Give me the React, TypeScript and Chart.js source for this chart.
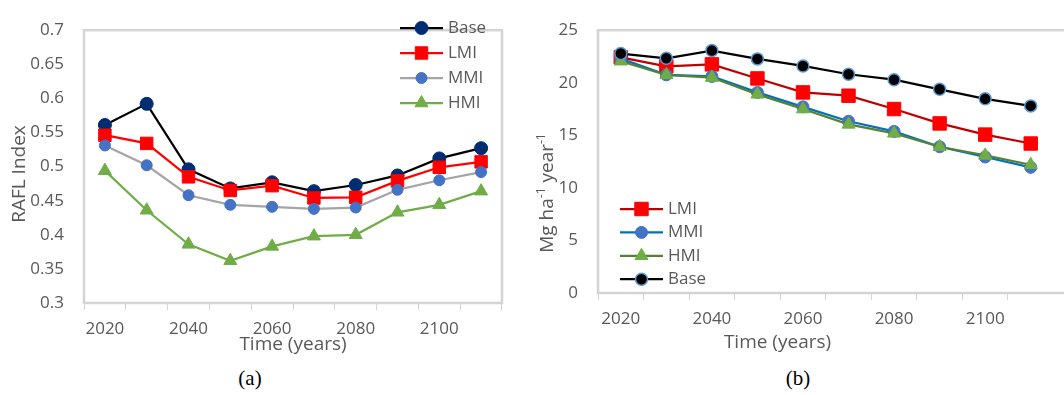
import React, { useEffect, useRef } from "react";
import { Chart, registerables } from "chart.js";
import { drawPoint } from "chart.js/helpers";

Chart.register(...registerables);

// ---------- data ----------
const years = ["2020", "2030", "2040", "2050", "2060", "2070", "2080", "2090", "2100", "2110"];
const tickLabels = ["2020", "", "2040", "", "2060", "", "2080", "", "2100", ""];

// (a) RAFL Index
const baseA = [0.561, 0.592, 0.496, 0.468, 0.477, 0.464, 0.473, 0.487, 0.512, 0.527];
const lmiA = [0.546, 0.534, 0.485, 0.465, 0.472, 0.454, 0.455, 0.479, 0.499, 0.507];
const mmiA = [0.531, 0.502, 0.458, 0.444, 0.441, 0.438, 0.44, 0.466, 0.48, 0.492];
const hmiA = [0.494, 0.436, 0.386, 0.362, 0.383, 0.398, 0.4, 0.433, 0.444, 0.464];

// (b) Mg ha-1 year-1
const lmiB = [22.42, 21.57, 21.75, 20.41, 19.08, 18.77, 17.5, 16.13, 15.07, 14.22];
const mmiB = [22.3, 20.75, 20.6, 19.08, 17.71, 16.34, 15.37, 13.91, 12.94, 11.95];
const hmiB = [22.05, 20.75, 20.5, 18.9, 17.5, 16.04, 15.19, 13.91, 13.09, 12.2];
const baseB = [22.78, 22.33, 23.06, 22.27, 21.6, 20.81, 20.29, 19.38, 18.47, 17.8];

const FONT = '"Open Sans", "Noto Sans", sans-serif';
const TEXT = "#595959";
const FS = 17;
const TFS = 19;

// ---------- plugins ----------
const boxPlugin = {
  id: "plotBox",
  beforeDatasetsDraw(chart: any, _a: any, opts: any) {
    const { ctx, chartArea } = chart;
    ctx.save();
    ctx.strokeStyle = opts.color || "#d4d4d4";
    ctx.lineWidth = opts.width || 2.5;
    const extra = opts.extendRight || 0;
    ctx.strokeRect(chartArea.left, chartArea.top, chartArea.right - chartArea.left + extra, chartArea.bottom - chartArea.top);
    ctx.restore();
  },
};

const titlePlugin = {
  id: "axisTitles",
  afterDraw(chart: any, _a: any, opts: any) {
    const ctx = chart.ctx;
    for (const it of opts.items || []) {
      ctx.save();
      ctx.translate(it.x, it.y);
      if (it.rotate) ctx.rotate(-Math.PI / 2);
      const base = `${it.size}px ${FONT}`;
      const sup = `${Math.round(it.size * 0.62)}px ${FONT}`;
      let w = 0;
      for (const s of it.segs) {
        ctx.font = s.sup ? sup : base;
        w += ctx.measureText(s.t).width;
      }
      let x = -w / 2;
      ctx.textBaseline = "middle";
      ctx.textAlign = "left";
      ctx.fillStyle = TEXT;
      for (const s of it.segs) {
        ctx.font = s.sup ? sup : base;
        ctx.fillText(s.t, x, s.sup ? -it.size * 0.32 : 0);
        x += ctx.measureText(s.t).width;
      }
      ctx.restore();
    }
  },
};

const legendPlugin = {
  id: "lineLegend",
  afterDraw(chart: any, _a: any, opts: any) {
    const ctx = chart.ctx;
    const ds = chart.data.datasets;
    (opts.order || []).forEach((idx: number, k: number) => {
      const d = ds[idx];
      const y = opts.y + k * opts.rowH;
      ctx.save();
      ctx.strokeStyle = d.borderColor;
      ctx.lineWidth = d.borderWidth;
      ctx.beginPath();
      ctx.moveTo(opts.x, y);
      ctx.lineTo(opts.x + opts.lineLen, y);
      ctx.stroke();
      ctx.fillStyle = d.pointBackgroundColor;
      ctx.strokeStyle = d.pointBorderColor;
      ctx.lineWidth = d.pointBorderWidth;
      drawPoint(ctx, { pointStyle: d.pointStyle, radius: d.pointRadius, rotation: 0, borderWidth: d.pointBorderWidth }, opts.x + opts.lineLen / 2, y);
      ctx.fillStyle = TEXT;
      ctx.font = `${FS}px ${FONT}`;
      ctx.textBaseline = "middle";
      ctx.textAlign = "left";
      ctx.fillText(d.label, opts.x + opts.lineLen + opts.gap, y);
      ctx.restore();
    });
  },
};

function ds(label: string, data: number[], line: string, fill: string, style: string, r: number, border: string, bw: number, order: number) {
  return {
    label,
    data,
    borderColor: line,
    borderWidth: 2.25,
    pointBackgroundColor: fill,
    pointBorderColor: border,
    pointBorderWidth: bw,
    pointStyle: style,
    pointRadius: r,
    pointHoverRadius: r,
    order,
    tension: 0,
    clip: false as any,
  };
}

function xScale(height: number, hideLastTick: boolean) {
  return {
    type: "category" as const,
    offset: true,
    grid: {
      display: true,
      drawOnChartArea: false,
      drawTicks: true,
      tickLength: 7,
      color: (c: any) => (hideLastTick && c.type !== "tick" ? "rgba(0,0,0,0)" : "#d4d4d4"),
      offset: true,
      lineWidth: 1,
    },
    border: { display: false },
    ticks: {
      autoSkip: false,
      maxRotation: 0,
      padding: 9,
      color: TEXT,
      font: { family: FONT, size: FS },
      callback: (_v: any, i: number) => tickLabels[i],
    },
    afterFit: (s: any) => {
      s.height = height;
    },
  };
}

function yScale(min: number, max: number, step: number, width: number, fmt: (v: number) => string) {
  return {
    min,
    max,
    grid: { display: false, drawTicks: false },
    border: { display: false },
    ticks: { stepSize: step, padding: 20, color: TEXT, font: { family: FONT, size: FS }, callback: (v: any) => fmt(Number(v)) },
    afterFit: (s: any) => {
      s.width = width;
    },
  };
}

function useChart(ref: React.RefObject<HTMLCanvasElement | null>, make: () => any) {
  useEffect(() => {
    if (!ref.current) return;
    const c = new Chart(ref.current, make());
    return () => c.destroy();
  }, []);
}

export default function App() {
  const refA = useRef<HTMLCanvasElement>(null);
  const refB = useRef<HTMLCanvasElement>(null);

  useChart(refA, () => ({
    type: "line",
    data: {
      labels: years,
      datasets: [
        ds("Base", baseA, "#000000", "#002D72", "circle", 6.5, "#002D72", 1, 3),
        ds("LMI", lmiA, "#FF0000", "#FF0000", "rect", 8.8, "#FF0000", 1, 2),
        ds("MMI", mmiA, "#A5A5A5", "#4472C4", "circle", 5.5, "#4472C4", 1, 1),
        ds("HMI", hmiA, "#70AD47", "#70AD47", "triangle", 7.5, "#70AD47", 1, 0),
      ],
    },
    options: {
      responsive: false,
      animation: false,
      layout: { padding: { top: 17, right: 28, left: 0, bottom: 0 } },
      scales: {
        x: xScale(57, false),
        y: yScale(0.3, 0.7, 0.05, 84, (v) => String(Math.round(v * 100) / 100)),
      },
      plugins: {
        legend: { display: false },
        tooltip: { enabled: false },
        plotBox: { color: "#d4d4d4", width: 2.5, extendRight: 0 },
        lineLegend: { x: 400, y: 28, rowH: 25, lineLen: 43, gap: 5, order: [0, 1, 2, 3] },
        axisTitles: {
          items: [
            { segs: [{ t: "RAFL Index" }], x: 19.5, y: 174, rotate: true, size: TFS },
            { segs: [{ t: "Time (years)" }], x: 293, y: 345, rotate: false, size: TFS },
          ],
        },
      },
    },
    plugins: [boxPlugin, titlePlugin, legendPlugin],
  }));

  useChart(refB, () => ({
    type: "line",
    data: {
      labels: years,
      datasets: [
        ds("LMI", lmiB, "#C00000", "#FF0000", "rect", 9.5, "#FF0000", 1, 3),
        ds("MMI", mmiB, "#0070C0", "#4472C4", "circle", 6, "#4472C4", 1, 2),
        ds("HMI", hmiB, "#548235", "#70AD47", "triangle", 7.5, "#70AD47", 1, 1),
        ds("Base", baseB, "#000000", "#000000", "circle", 6, "#5B9BD5", 1.5, 0),
      ],
    },
    options: {
      responsive: false,
      animation: false,
      layout: { padding: { top: 18, right: 6, left: 0, bottom: 0 } },
      scales: {
        x: xScale(67, true),
        y: yScale(0, 25, 5, 68, (v) => String(v)),
      },
      plugins: {
        legend: { display: false },
        tooltip: { enabled: false },
        plotBox: { color: "#d4d4d4", width: 2.5, extendRight: 30 },
        lineLegend: { x: 90, y: 209, rowH: 23.4, lineLen: 43, gap: 5, order: [0, 1, 2, 3] },
        axisTitles: {
          items: [
            {
              segs: [{ t: "Mg ha" }, { t: "-1", sup: true }, { t: " year" }, { t: "-1", sup: true }],
              x: 18,
              y: 193,
              rotate: true,
              size: TFS,
            },
            { segs: [{ t: "Time (years)" }], x: 247.5, y: 343, rotate: false, size: TFS },
          ],
        },
      },
    },
    plugins: [boxPlugin, titlePlugin, legendPlugin],
  }));

  const caption: React.CSSProperties = {
    position: "absolute",
    top: 378,
    transform: "translate(-50%, -50%)",
    fontFamily: '"Liberation Serif", "Times New Roman", serif',
    fontSize: 21,
    color: "#000",
    whiteSpace: "nowrap",
  };

  return (
    <div style={{ position: "absolute", left: 0, top: 0, width: 1064, height: 395, background: "#fff", overflow: "hidden" }}>
      <canvas ref={refA} width={530} height={360} style={{ position: "absolute", left: 0, top: 0, width: 530, height: 360 }} />
      <canvas ref={refB} width={534} height={360} style={{ position: "absolute", left: 530, top: 0, width: 534, height: 360 }} />
      <div style={{ ...caption, left: 250 }}>(a)</div>
      <div style={{ ...caption, left: 798 }}>(b)</div>
    </div>
  );
}
